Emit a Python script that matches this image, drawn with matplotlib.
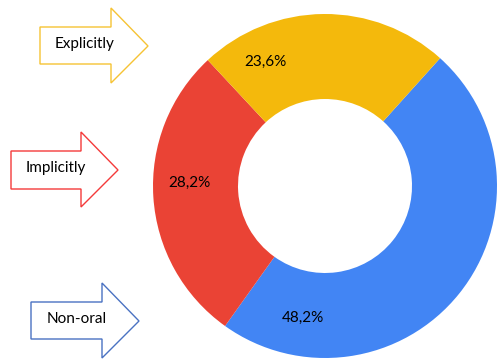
import matplotlib.pyplot as plt
from matplotlib.patches import Polygon

# slices, clockwise from the yellow/blue boundary
categories = ["Non-oral", "Implicitly", "Explicitly"]
shares = [48.2, 28.2, 23.6]
slice_colors = ["#4285F4", "#EA4335", "#F4B90C"]

# arrow callouts on the left
arrow_labels = ["Explicitly", "Implicitly", "Non-oral"]
arrow_colors = ["#F6C334", "#F43A3A", "#4A72C2"]

W, H = 498, 360
fig = plt.figure(figsize=(W / 100, H / 100), dpi=100)
ax = fig.add_axes([0, 0, 1, 1])

cx, cy, R = 325, H - 186, 172
wedges, texts, autotexts = ax.pie(
    shares, colors=slice_colors, startangle=48, counterclock=False,
    center=(cx, cy), radius=R, frame=True,
    wedgeprops=dict(width=R - 87, linewidth=0),
    autopct=lambda p: f"{p:.1f}%".replace(".", ","),
    textprops=dict(fontsize=11, family="Lato", color="black"),
)
ax.set_xlim(0, W)
ax.set_ylim(0, H)
ax.set_aspect("equal")
ax.axis("off")

# percentage labels sit where the original put them
label_pos = [(303, 318), (189, 183), (265, 62)]
for t, (x, y) in zip(autotexts, label_pos):
    t.set_position((x, H - y))
    t.set_ha("center")
    t.set_va("center")


def arrow(x0, x1, x2, yb0, yb1, yh0, yh1, ym):
    return [(x0, yb0), (x1, yb0), (x1, yh0), (x2, ym), (x1, yh1), (x1, yb1), (x0, yb1)]


shapes = [
    (40, 111, 148, 27, 64, 8, 83, 46, 85),
    (11, 81, 118, 151, 189, 132, 207, 170, 56),
    (31, 102, 139, 302, 339, 283, 358, 321, 77),
]
for lab, col, s in zip(arrow_labels, arrow_colors, shapes):
    x0, x1, x2, yb0, yb1, yh0, yh1, ym, tx = s
    pts = [(x, H - y) for x, y in arrow(x0, x1, x2, yb0, yb1, yh0, yh1, ym)]
    ax.add_patch(Polygon(pts, closed=True, facecolor="white", edgecolor=col, linewidth=1.0))
    ax.text(tx, H - ym + 2, lab, ha="center", va="center", fontsize=11,
            family="Lato", color="black")

fig.savefig("out.png", dpi=100)
